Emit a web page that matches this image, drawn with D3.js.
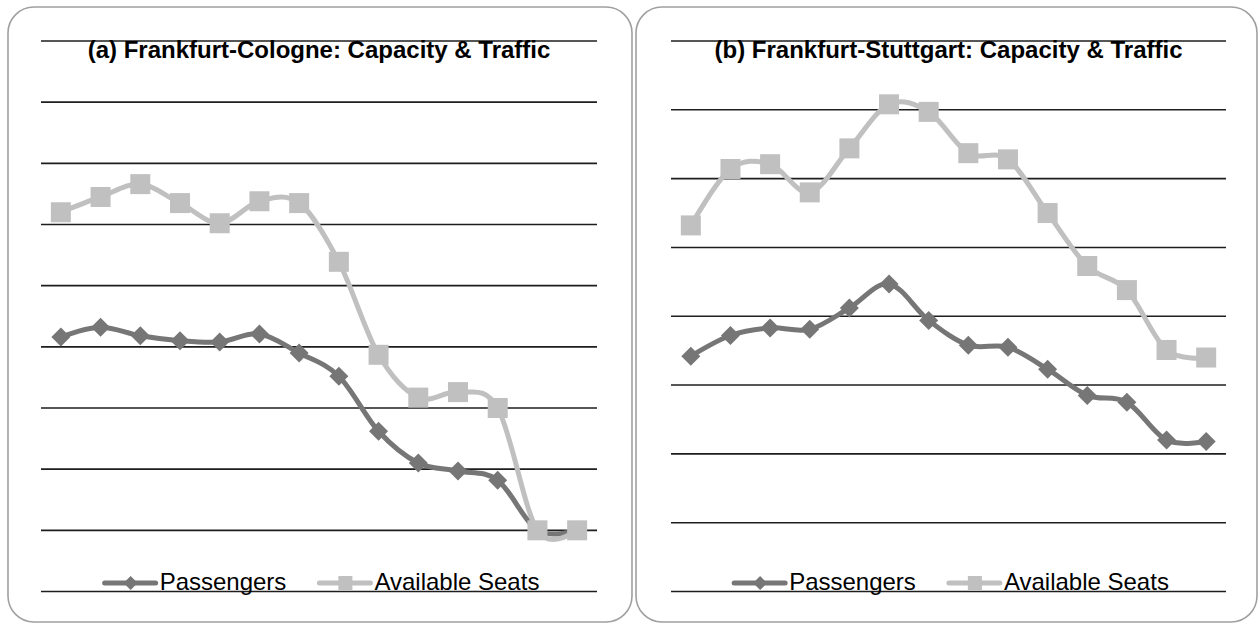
<!DOCTYPE html>
<html>
<head>
<meta charset="utf-8">
<script src="https://cdn.jsdelivr.net/npm/d3@7"></script>
<style>
  body { margin: 0; background: #fff; }
  text { font-family: "Liberation Sans", Arial, Helvetica, sans-serif; }
</style>
</head>
<body>
<div id="vis"></div>
<script>
// 14 periods, no axis labels shown in the chart
const periods = ["1", "2", "3", "4", "5", "6", "7", "8", "9", "10", "11", "12", "13", "14"];

// values in gridline units
const colognePassengers = [4.16, 4.32, 4.18, 4.10, 4.08, 4.21, 3.90, 3.52, 2.62, 2.10, 1.97, 1.82, 1.00, 1.00];
const cologneSeats = [6.20, 6.45, 6.66, 6.35, 6.02, 6.38, 6.35, 5.39, 3.87, 3.17, 3.26, 3.00, 1.00, 1.00];
const cologneTicks = [0, 1, 2, 3, 4, 5, 6, 7, 8, 9];

const stuttgartPassengers = [3.42, 3.72, 3.83, 3.81, 4.12, 4.47, 3.94, 3.58, 3.55, 3.23, 2.85, 2.75, 2.20, 2.18];
const stuttgartSeats = [5.32, 6.14, 6.21, 5.80, 6.44, 7.08, 6.97, 6.37, 6.28, 5.50, 4.73, 4.38, 3.51, 3.40];
const stuttgartTicks = [0, 1, 2, 3, 4, 5, 6, 7, 8];

const seriesNames = ["Passengers", "Available Seats"];

const WIDTH = 1258, HEIGHT = 624;
const PAX_COLOR = "#767676";
const SEAT_COLOR = "#c0c0c0";

const svg = d3.select("#vis")
    .append("svg")
    .attr("width", WIDTH)
    .attr("height", HEIGHT);

function drawPanel(cfg) {
    const g = svg.append("g");

    // rounded frame
    g.append("rect")
        .attr("x", cfg.box[0])
        .attr("y", 7)
        .attr("width", cfg.box[1] - cfg.box[0])
        .attr("height", 615)
        .attr("rx", 26)
        .attr("fill", "white")
        .attr("stroke", "#a0a0a0")
        .attr("stroke-width", 1.6);

    const X = d3.scalePoint()
        .domain(periods)
        .range(cfg.plotX)
        .padding(0.5);

    const Y = d3.scaleLinear()
        .domain([0, d3.max(cfg.ticks)])
        .range([591.5, 41]);

    // gridlines
    g.selectAll(".grid")
        .data(cfg.ticks)
        .enter()
        .append("line")
        .attr("x1", cfg.plotX[0])
        .attr("x2", cfg.plotX[1])
        .attr("y1", d => Y(d))
        .attr("y2", d => Y(d))
        .attr("stroke", "#1e1e1e")
        .attr("stroke-width", 1.6);

    const cx = (cfg.plotX[0] + cfg.plotX[1]) / 2;

    // title
    g.append("text")
        .attr("x", cx)
        .attr("y", 58)
        .attr("text-anchor", "middle")
        .attr("font-size", "24px")
        .attr("font-weight", "bold")
        .attr("fill", "#000")
        .text(cfg.title);

    const line = d3.line()
        .x((d, i) => X(periods[i]))
        .y(d => Y(d))
        .curve(d3.curveCardinal.tension(0));

    // passengers
    g.append("path")
        .datum(cfg.pax)
        .attr("d", line)
        .attr("fill", "none")
        .attr("stroke", PAX_COLOR)
        .attr("stroke-width", 5);

    g.selectAll(".pax")
        .data(cfg.pax)
        .enter()
        .append("path")
        .attr("transform", (d, i) => "translate(" + X(periods[i]) + "," + Y(d) + ")")
        .attr("d", "M0,-9.5L9.5,0L0,9.5L-9.5,0Z")
        .attr("fill", PAX_COLOR);

    // seats
    g.append("path")
        .datum(cfg.seats)
        .attr("d", line)
        .attr("fill", "none")
        .attr("stroke", SEAT_COLOR)
        .attr("stroke-width", 5);

    g.selectAll(".seat")
        .data(cfg.seats)
        .enter()
        .append("rect")
        .attr("x", (d, i) => X(periods[i]) - 10)
        .attr("y", d => Y(d) - 10)
        .attr("width", 20)
        .attr("height", 20)
        .attr("fill", SEAT_COLOR);

    // legend
    const leg = g.append("g");
    const colors = [PAX_COLOR, SEAT_COLOR];
    let x = 0;
    const ly = 583;
    seriesNames.forEach((name, i) => {
        leg.append("line")
            .attr("x1", x + 2)
            .attr("x2", x + 53)
            .attr("y1", ly)
            .attr("y2", ly)
            .attr("stroke", colors[i])
            .attr("stroke-width", 5)
            .attr("stroke-linecap", "round");
        if (i == 0) {
            leg.append("path")
                .attr("transform", "translate(" + (x + 28) + "," + ly + ")")
                .attr("d", "M0,-7L7,0L0,7L-7,0Z")
                .attr("fill", colors[i]);
        } else {
            leg.append("rect")
                .attr("x", x + 21)
                .attr("y", ly - 7)
                .attr("width", 14)
                .attr("height", 14)
                .attr("fill", colors[i]);
        }
        const t = leg.append("text")
            .attr("x", x + 57)
            .attr("y", 590)
            .attr("font-size", "24px")
            .attr("fill", "#000")
            .text(name);
        x += 57 + t.node().getComputedTextLength() + 31;
    });
    const legW = x - 31;
    leg.attr("transform", "translate(" + (cx + 2 - legW / 2) + ",0)");
}

drawPanel({
    box: [8, 632],
    plotX: [41, 597],
    ticks: cologneTicks,
    title: "(a) Frankfurt-Cologne: Capacity & Traffic",
    pax: colognePassengers,
    seats: cologneSeats
});

drawPanel({
    box: [636, 1257],
    plotX: [671, 1226],
    ticks: stuttgartTicks,
    title: "(b) Frankfurt-Stuttgart: Capacity & Traffic",
    pax: stuttgartPassengers,
    seats: stuttgartSeats
});
</script>
</body>
</html>
